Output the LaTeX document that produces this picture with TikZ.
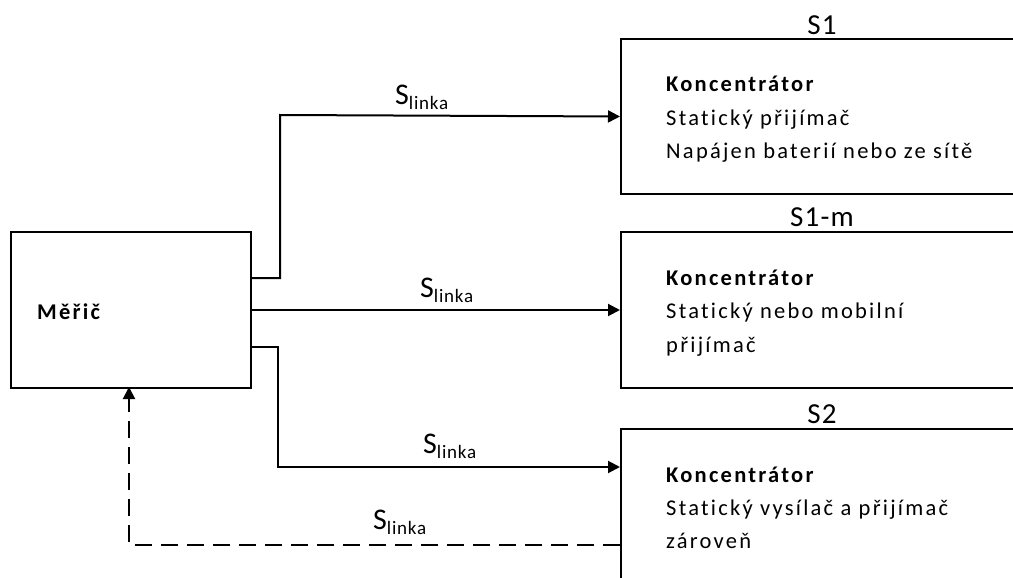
\documentclass[tikz,border=0pt]{standalone}
\usepackage{fontspec}
\setmainfont{Carlito}
\newfontfamily\spaced[LetterSpace=10,Ligatures=NoCommon]{Carlito}
\newfontfamily\lspaced[LetterSpace=4,Ligatures=NoCommon]{Carlito}
\usetikzlibrary{arrows.meta}
\newcommand\slinkalabel{{\fontsize{30}{32}\selectfont S}\raisebox{-5pt}{\lspaced\fontsize{19}{20}\selectfont linka}}
\tikzset{
  box/.style={draw, line width=2pt, rectangle, inner sep=0pt, anchor=north west},
  conn/.style={line width=2pt, -{Triangle[length=12pt,width=12pt]}},
  back/.style={line width=2pt, dash pattern=on 17pt off 9pt, -{Triangle[length=12pt,width=12pt]}},
  txt/.style={anchor=base west, inner sep=0pt, font=\spaced\fontsize{22.5}{24}\selectfont},
  btxt/.style={txt, font=\spaced\fontsize{22.5}{24}\selectfont\bfseries},
  head/.style={anchor=base, inner sep=0pt, font=\lspaced\fontsize{29}{31}\selectfont},
  lbl/.style={anchor=base west, inner sep=0pt}
}
\begin{document}
\begin{tikzpicture}[x=1pt,y=-1pt]
\useasboundingbox (0,0) rectangle (1013,578);
\clip (0,0) rectangle (1013,578);
% boxes
\node[box, minimum width=240pt, minimum height=156pt] (meric) at (10,231) {};
\node[box, minimum width=420pt, minimum height=155pt] (s1) at (620,38) {};
\node[box, minimum width=420pt, minimum height=156pt] (s1m) at (620,231) {};
\node[box, minimum width=420pt, minimum height=200pt] (s2) at (620,428) {};
% headers
\node[head] (h1) at (822,35) {S1};
\node[head] (h1m) at (822,226) {S1-m};
\node[head] (h2) at (822,423) {S2};
% texts
\node[btxt] (mt) at (37,319) {Měřič};
\node[btxt] (k1) at (666,92) {Koncentrátor};
\node[txt] (a1) at (666,125) {Statický přijímač};
\node[txt] (b1) at (666,158) {Napájen baterií nebo ze sítě};
\node[btxt] (k2) at (666,285) {Koncentrátor};
\node[txt] (a2) at (666,318) {Statický nebo mobilní};
\node[txt] (b2) at (666,352) {přijímač};
\node[btxt] (k3) at (666,482) {Koncentrátor};
\node[txt] (a3) at (666,515) {Statický vysílač a přijímač};
\node[txt] (b3) at (666,548) {zároveň};
% connector coordinates
\coordinate (o1) at (250,278);
\coordinate (o3) at (250,347);
\coordinate (t3) at (620,467);
\coordinate (d0) at (620,545);
\coordinate (d1) at (129,387);
% connectors
\draw[conn] (o1) -- (280,278) -- (280,115) -- (s1.west);
\draw[conn] (meric.east) -- (s1m.west);
\draw[conn] (o3) -- (278,347) -- (278,467) -- (t3);
\draw[back] (d0) -- (129,545) -- (d1);
% labels
\node[lbl] (l1) at (395,105) {\slinkalabel};
\node[lbl] (l2) at (420,297) {\slinkalabel};
\node[lbl] (l3) at (423,453) {\slinkalabel};
\node[lbl] (l4) at (373,529) {\slinkalabel};
\end{tikzpicture}
\end{document}
